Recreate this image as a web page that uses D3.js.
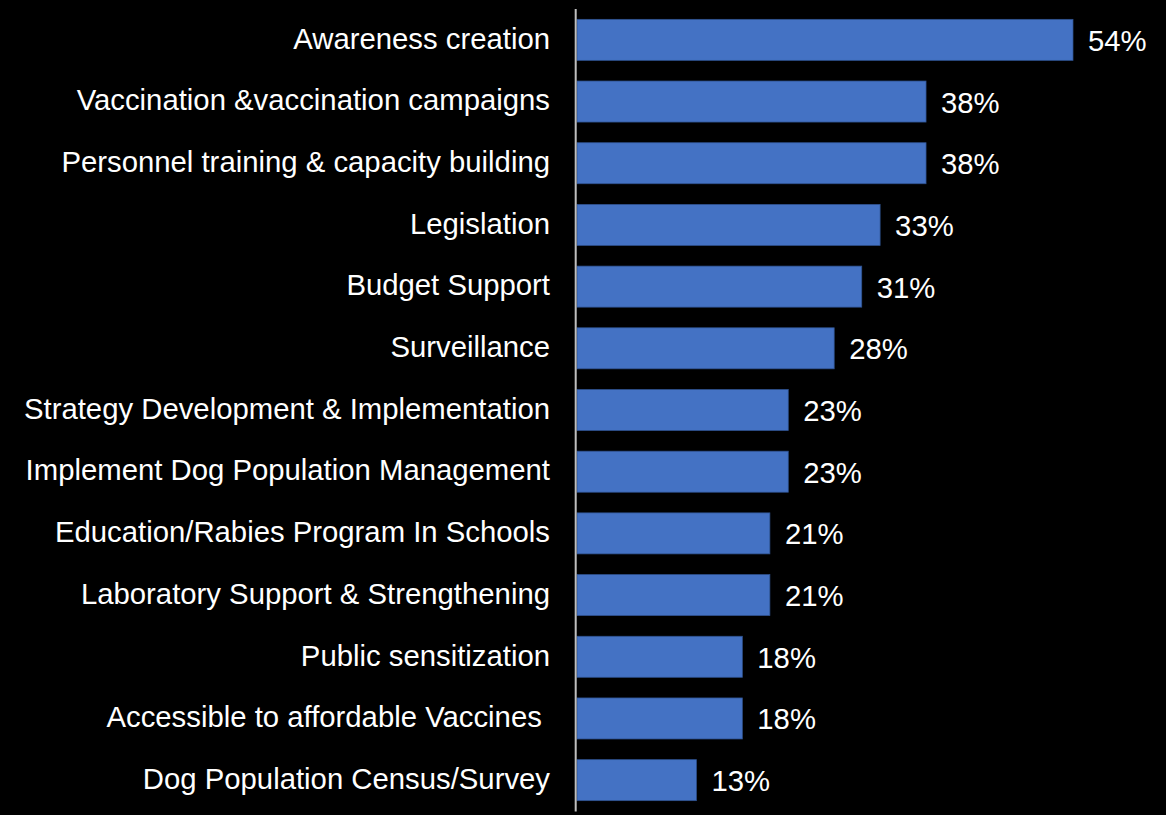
<!DOCTYPE html>
<html>
<head>
<meta charset="utf-8">
<script src="https://cdn.jsdelivr.net/npm/d3@7"></script>
<style>
  html, body { margin: 0; padding: 0; background: #000; }
  svg { display: block; }
  text { font-family: "Liberation Sans", Arial, sans-serif; fill: #fff; white-space: pre; }
</style>
</head>
<body>
<svg id="chart" width="1166" height="815"></svg>
<script>
// Priority areas, share of respondents (%)
const categories = [
  "Awareness creation",
  "Vaccination &vaccination campaigns",
  "Personnel training & capacity building",
  "Legislation",
  "Budget Support",
  "Surveillance",
  "Strategy Development & Implementation",
  "Implement Dog Population Management",
  "Education/Rabies Program In Schools",
  "Laboratory Support & Strengthening",
  "Public sensitization",
  "Accessible to affordable Vaccines ",
  "Dog Population Census/Survey"
];
const values = [54, 38, 38, 33, 31, 28, 23, 23, 21, 21, 18, 18, 13];
const valueLabels = values.map(v => v + "%");

const svg = d3.select("#chart");
const x0 = 577;
const fontSize = 29.3;

const x = d3.scaleLinear().domain([0, 54]).range([x0, x0 + 496]);
const y = d3.scaleBand().domain(categories).range([9, 811]).paddingInner(0.335).paddingOuter(0.1675);

// Bars
svg.append("g").selectAll("rect")
  .data(categories)
  .join("rect")
  .attr("x", x(0))
  .attr("y", d => y(d))
  .attr("width", (d, i) => x(values[i]) - x(0))
  .attr("height", y.bandwidth())
  .attr("fill", "#4472C4")
  .attr("stroke", "#2F528F")
  .attr("stroke-width", 0.75);

// Category axis line
svg.append("line")
  .attr("x1", 575.7).attr("x2", 575.7)
  .attr("y1", 9).attr("y2", 811.5)
  .attr("stroke", "#BFBFBF")
  .attr("stroke-width", 2);

// Category labels
svg.append("g").selectAll("text")
  .data(categories)
  .join("text")
  .attr("x", 550)
  .attr("y", d => y(d) + y.bandwidth() / 2 + 8.8)
  .attr("text-anchor", "end")
  .attr("font-size", fontSize)
  .text(d => d);

// Value labels
svg.append("g").selectAll("text")
  .data(categories)
  .join("text")
  .attr("x", (d, i) => x(values[i]) + 15)
  .attr("y", d => y(d) + y.bandwidth() / 2 + 11)
  .attr("font-size", fontSize)
  .text((d, i) => valueLabels[i]);
</script>
</body>
</html>
